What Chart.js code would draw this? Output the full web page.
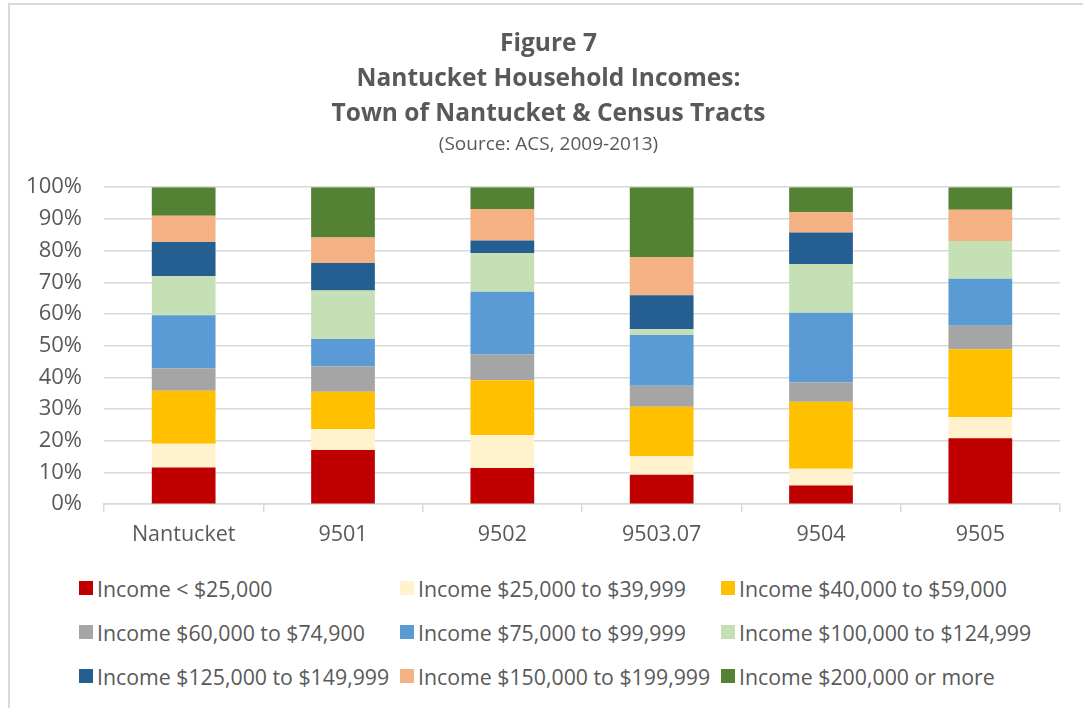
<!DOCTYPE html>
<html>
<head>
<meta charset="utf-8">
<script src="https://cdn.jsdelivr.net/npm/chart.js@4"></script>
<style>
	body { margin: 0; background: #fff; overflow: hidden; }
	#wrap { position: relative; width: 1083px; height: 708px; overflow: hidden; }
	#frame { position: absolute; left: 8px; top: 3px; width: 1100px; height: 720px; border: 2px solid #d9d9d9; box-sizing: border-box; }
	#chartBox { position: absolute; left: 0; top: 0; width: 1083px; height: 560px; }
	#legend { position: absolute; left: 79px; top: 576px; display: grid; grid-template-columns: 321px 321px 330px; row-gap: 20px;
		font-family: "Open Sans", sans-serif; font-size: 21.3px; color: #595959; }
	#legend div { display: flex; align-items: center; white-space: nowrap; height: 24px; }
	#legend span.box { display: inline-block; width: 14px; height: 14px; margin-right: 4px; }
</style>
</head>
<body>
<div id="wrap">
	<div id="frame"></div>
	<div id="chartBox"><canvas id="myChart" width="1083" height="560"></canvas></div>
	<div id="legend"></div>
</div>
<script>
var categories = ['Nantucket', '9501', '9502', '9503.07', '9504', '9505'];

var under25k   = [11.6, 17.1, 11.4,  9.3,  5.9, 20.8];
var to39k      = [ 7.5,  6.6, 10.4,  5.9,  5.3,  6.7];
var to59k      = [16.7, 11.8, 17.3, 15.5, 21.1, 21.4];
var to74k      = [ 7.1,  8.0,  8.2,  6.7,  6.2,  7.4];
var to99k      = [16.7,  8.6, 19.7, 16.0, 21.9, 14.8];
var to124k     = [12.3, 15.3, 12.2,  1.8, 15.4, 11.9];
var to149k     = [10.8,  8.7,  4.0, 10.7,  9.9,  0.0];
var to199k     = [ 8.3,  8.0,  9.9, 12.1,  6.4,  9.9];
var over200k   = [ 9.0, 15.9,  6.9, 22.0,  7.9,  7.1];

var seriesNames = [
	'Income < $25,000', 'Income $25,000 to $39,999', 'Income $40,000 to $59,000',
	'Income $60,000 to $74,900', 'Income $75,000 to $99,999', 'Income $100,000 to $124,999',
	'Income $125,000 to $149,999', 'Income $150,000 to $199,999', 'Income $200,000 or more'
];
var seriesData = [under25k, to39k, to59k, to74k, to99k, to124k, to149k, to199k, over200k];
var seriesColors = ['#C00000', '#FFF2CC', '#FFC000', '#A5A5A5', '#5B9BD5', '#C5E0B4', '#255E91', '#F4B183', '#548235'];

var yTicks = [0, 10, 20, 30, 40, 50, 60, 70, 80, 90, 100];

var datasets = seriesNames.map(function (name, i) {
	return {
		label: name,
		data: seriesData[i],
		backgroundColor: seriesColors[i],
		borderWidth: 0,
		barPercentage: 0.8,
		categoryPercentage: 0.5
	};
});

// the y labels hang a little left of the axis box (so the title stays centred);
// widen the label clip area after layout so "100%" is not cut
var yLabelRoom = {
	id: 'yLabelRoom',
	afterLayout: function (chart) {
		chart.scales.y.left = 0;
	}
};

var textColor = '#595959';
var ctx = document.getElementById('myChart').getContext('2d');
var myChart = new Chart(ctx, {
	type: 'bar',
	data: { labels: categories, datasets: datasets },
	plugins: [yLabelRoom],
	options: {
		responsive: false,
		animation: false,
		layout: { padding: { top: 10, left: 37, right: 23, bottom: 2 } },
		plugins: {
			legend: { display: false },
			tooltip: { enabled: false },
			title: {
				display: true,
				text: ['Figure 7', 'Nantucket Household Incomes:', 'Town of Nantucket & Census Tracts'],
				color: textColor,
				font: { family: 'Open Sans', size: 24.5, weight: 'bold', lineHeight: 1.42 },
				padding: { top: 17, bottom: 2 }
			},
			subtitle: {
				display: true,
				text: '(Source: ACS, 2009-2013)',
				color: textColor,
				font: { family: 'Open Sans', size: 19, lineHeight: 1.2 },
				padding: { top: 0, bottom: 31 }
			}
		},
		scales: {
			x: {
				stacked: true,
				grid: { display: true, offset: true, drawOnChartArea: false, color: '#d9d9d9', lineWidth: 1.5, tickLength: 8 },
				border: { display: true, color: '#d9d9d9', width: 1.5 },
				ticks: { color: textColor, font: { family: 'Open Sans', size: 21.5 }, padding: 10 }
			},
			y: {
				stacked: true,
				min: 0,
				max: 100,
				afterBuildTicks: function (axis) {
					axis.ticks = yTicks.map(function (v) { return { value: v }; });
				},
				afterFit: function (axis) { axis.width = 67; },
				grid: { color: '#d9d9d9', lineWidth: 1.5, drawTicks: false },
				border: { display: false },
				ticks: {
					color: textColor,
					font: { family: 'Open Sans', size: 22 },
					padding: 22,
					callback: function (v) { return v + '%'; }
				}
			}
		}
	}
});

var legendEl = document.getElementById('legend');
seriesNames.forEach(function (name, i) {
	var item = document.createElement('div');
	var box = document.createElement('span');
	box.className = 'box';
	box.style.background = seriesColors[i];
	item.appendChild(box);
	item.appendChild(document.createTextNode(name));
	legendEl.appendChild(item);
});
</script>
</body>
</html>
